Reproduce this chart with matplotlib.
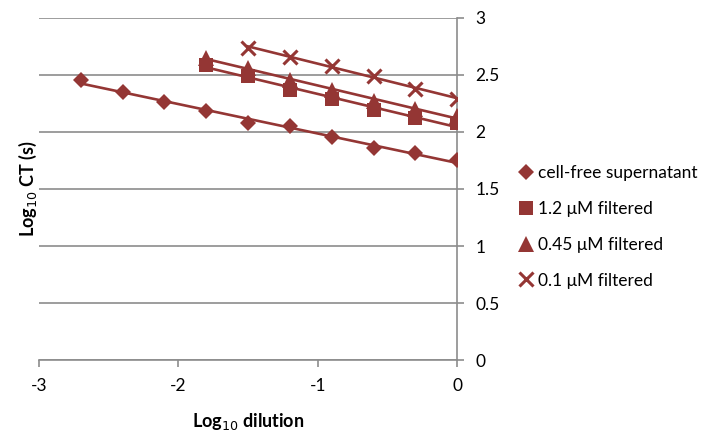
import numpy as np
import matplotlib.pyplot as plt

plt.rcParams['font.family'] = ['Lato', 'DejaVu Sans']
plt.rcParams['axes.unicode_minus'] = False

# data
x_cell = [-2.7, -2.4, -2.1, -1.8, -1.5, -1.2, -0.9, -0.6, -0.3, 0.0]
y_cell = [2.46, 2.35, 2.26, 2.18, 2.08, 2.05, 1.96, 1.86, 1.82, 1.75]

x_12 = [-1.8, -1.5, -1.2, -0.9, -0.6, -0.3, 0.0]
y_12 = [2.59, 2.49, 2.37, 2.29, 2.19, 2.12, 2.08]

x_045 = [-1.8, -1.5, -1.2, -0.9, -0.6, -0.3, 0.0]
y_045 = [2.65, 2.56, 2.46, 2.37, 2.27, 2.20, 2.14]

x_01 = [-1.5, -1.2, -0.9, -0.6, -0.3, 0.0]
y_01 = [2.74, 2.66, 2.58, 2.49, 2.38, 2.29]

labels = ["cell-free supernatant", "1.2 \u03bcM filtered",
          "0.45 \u03bcM filtered", "0.1 \u03bcM filtered"]
markers = ["D", "s", "^", "x"]
sizes = [8, 10, 11, 10]

col = "#943634"
grey = "#8c8c8c"

fig = plt.figure(figsize=(7.19, 4.38), dpi=100)
ax = fig.add_axes([0.054, 0.178, 0.582, 0.781])

series = [(x_cell, y_cell), (x_12, y_12), (x_045, y_045), (x_01, y_01)]
for (xs, ys), lab, m, s in zip(series, labels, markers, sizes):
    xs = np.array(xs)
    ys = np.array(ys)
    # linear trendline over the data range
    k, b = np.polyfit(xs, ys, 1)
    ax.plot([xs.min(), xs.max()], [k * xs.min() + b, k * xs.max() + b],
            color=col, lw=1.9, zorder=2)
    if m == "x":
        ax.plot(xs, ys, linestyle="None", marker=m, ms=s, mew=2.2,
                color=col, label=lab, zorder=3)
    else:
        ax.plot(xs, ys, linestyle="None", marker=m, ms=s, mew=0,
                color=col, label=lab, zorder=3)

ax.set_xlim(-3, 0)
ax.set_ylim(0, 3)
ax.set_xticks([-3, -2, -1, 0])
ax.set_yticks(np.arange(0, 3.01, 0.5))
ax.set_yticklabels(["0", "0.5", "1", "1.5", "2", "2.5", "3"])
ax.yaxis.grid(True, color=grey, lw=1.2)
ax.set_axisbelow(True)

for sp in ["top", "left"]:
    ax.spines[sp].set_visible(False)
ax.spines["bottom"].set_color(grey)
ax.spines["right"].set_color(grey)
ax.spines["bottom"].set_linewidth(1.2)
ax.spines["right"].set_linewidth(1.2)

ax.yaxis.tick_right()
ax.tick_params(axis="both", colors=grey, labelcolor="black", labelsize=12.5,
               length=5, width=1.2)
ax.tick_params(axis="y", pad=8)
ax.tick_params(axis="x", pad=8)

ax.set_xlabel("Log$_{10}$ dilution", fontsize=13, fontweight="bold", labelpad=12)
ax.yaxis.set_label_position("left")
ax.set_ylabel("Log$_{10}$ CT (s)", fontsize=13, fontweight="bold")
ax.yaxis.set_label_coords(0.0, 0.5)

ax.legend(loc="center left", bbox_to_anchor=(1.13, 0.39), frameon=False,
          fontsize=12.5, handlelength=0.8, handletextpad=0.3, labelspacing=1.15,
          borderaxespad=0)

fig.savefig("out.png", dpi=100)
